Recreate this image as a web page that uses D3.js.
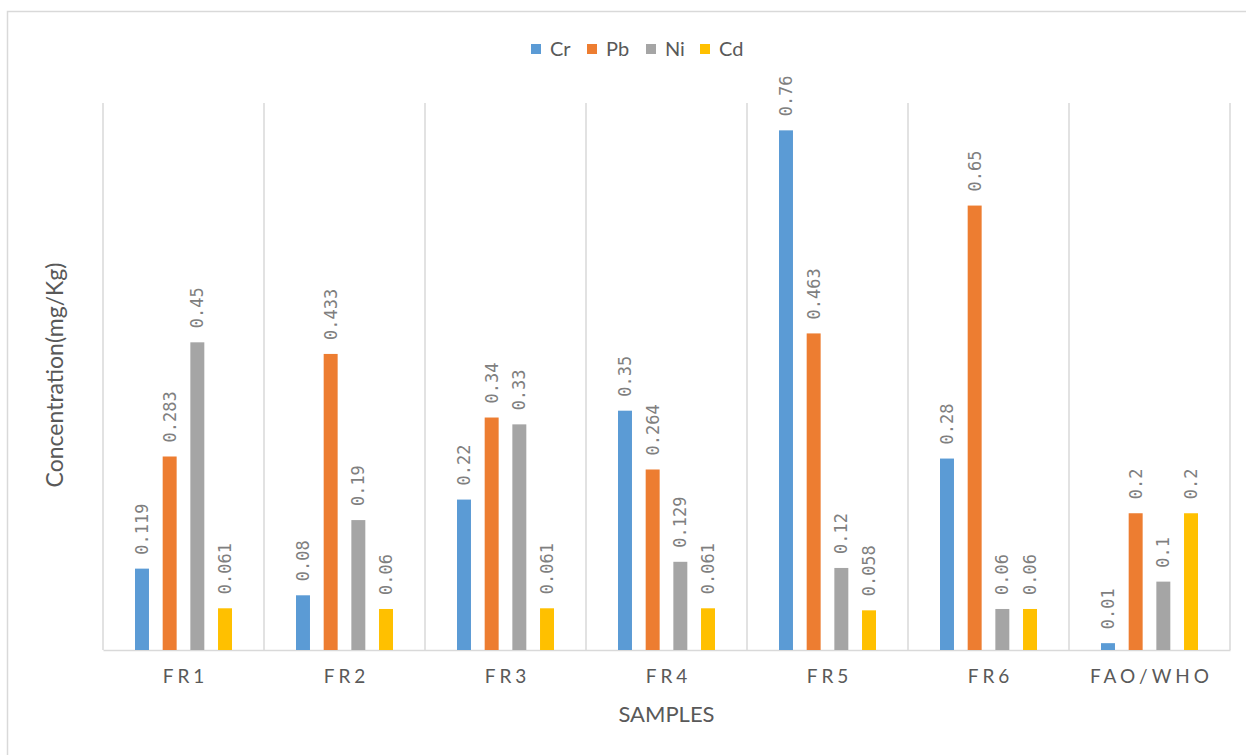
<!DOCTYPE html>
<html>
<head>
<meta charset="utf-8">
<script src="https://cdn.jsdelivr.net/npm/d3@7"></script>
<style>
  body { margin: 0; background: #fff; }
  svg { display: block; }
</style>
</head>
<body>
<div id="chart"></div>
<script>
// data
var samples = ["FR1", "FR2", "FR3", "FR4", "FR5", "FR6", "FAO/WHO"];
var metals = ["Cr", "Pb", "Ni", "Cd"];
var crValues = [0.119, 0.08, 0.22, 0.35, 0.76, 0.28, 0.01];
var pbValues = [0.283, 0.433, 0.34, 0.264, 0.463, 0.65, 0.2];
var niValues = [0.45, 0.19, 0.33, 0.129, 0.12, 0.06, 0.1];
var cdValues = [0.061, 0.06, 0.061, 0.061, 0.058, 0.06, 0.2];
var colours = ["#5B9BD5", "#ED7D31", "#A5A5A5", "#FFC000"];

var seriesValues = [crValues, pbValues, niValues, cdValues];

var width = 1246, height = 755;
var margin = {top: 103, right: 16, bottom: 105, left: 103};

var svg = d3.select("#chart")
            .append("svg")
            .attr("width", width)
            .attr("height", height);

// chart border
svg.append("rect")
   .attr("x", 7.5).attr("y", 11.5)
   .attr("width", 1260).attr("height", 780)
   .attr("fill", "none")
   .attr("stroke", "#D9D9D9")
   .attr("stroke-width", 1.5);

var x0 = d3.scaleBand()
           .domain(samples)
           .range([margin.left, width - margin.right]);

var x1 = d3.scaleBand()
           .domain(metals)
           .range([0, 97])
           .paddingInner(0.495);
var innerOffset = (x0.bandwidth() - 97) / 2;

var y = d3.scaleLinear()
          .domain([0, 0.8])
          .range([height - margin.bottom, margin.top]);

// vertical separators between categories
var gridX = samples.map(function(s) { return x0(s); });
gridX.push(x0.range()[1]);
svg.append("g")
   .selectAll("line")
   .data(gridX)
   .enter()
   .append("line")
   .attr("x1", function(d) { return d; })
   .attr("x2", function(d) { return d; })
   .attr("y1", y(0.8))
   .attr("y2", y(0))
   .attr("stroke", "#D9D9D9")
   .attr("stroke-width", 1.5);

// x axis (labels only, baseline line)
var xAxis = svg.append("g")
   .attr("transform", "translate(0," + y(0) + ")")
   .call(d3.axisBottom(x0).tickSize(0).tickPadding(20));
xAxis.select(".domain").attr("stroke", "#D9D9D9").attr("stroke-width", 1.5);
xAxis.selectAll("text")
     .attr("font-family", "Lato, 'Open Sans', sans-serif")
     .attr("font-size", "19px")
     .attr("fill", "#595959")
     .style("letter-spacing", "4px")
     .attr("dx", "2px");

// bars
var rows = [];
samples.forEach(function(s, i) {
	metals.forEach(function(m, j) {
		rows.push({sample: s, metal: m, value: seriesValues[j][i], colour: colours[j]});
	});
});

svg.append("g")
   .selectAll("rect")
   .data(rows)
   .enter()
   .append("rect")
   .attr("x", function(d) { return x0(d.sample) + innerOffset + x1(d.metal); })
   .attr("y", function(d) { return y(d.value); })
   .attr("width", x1.bandwidth())
   .attr("height", function(d) { return y(0) - y(d.value); })
   .attr("fill", function(d) { return d.colour; });

// value labels, rotated
svg.append("g")
   .selectAll("text")
   .data(rows)
   .enter()
   .append("text")
   .attr("transform", function(d) {
		let cx = x0(d.sample) + innerOffset + x1(d.metal) + x1.bandwidth() / 2 + 6;
		let cy = y(d.value) - 14;
		return "translate(" + cx + "," + cy + ") rotate(-90)";
   })
   .attr("font-family", "'DejaVu Sans Mono', monospace")
   .attr("font-size", "17px")
   .attr("fill", "#7F7F7F")
   .text(function(d) { return d.value; });

// axis titles
svg.append("text")
   .attr("x", x0.range()[0] + (x0.range()[1] - x0.range()[0]) / 2)
   .attr("y", 722)
   .attr("text-anchor", "middle")
   .attr("font-family", "Lato, 'Open Sans', sans-serif")
   .attr("font-size", "22px")
   .attr("fill", "#595959")
   .text("SAMPLES");

svg.append("text")
   .attr("transform", "translate(63,375) rotate(-90)")
   .attr("text-anchor", "middle")
   .attr("font-family", "Lato, 'Open Sans', sans-serif")
   .attr("font-size", "23px")
   .attr("fill", "#595959")
   .text("Concentration(mg/Kg)");

// legend
var legendX = [531, 587, 646, 700];
var legend = svg.append("g")
   .selectAll("g")
   .data(metals)
   .enter()
   .append("g")
   .attr("transform", function(d, i) { return "translate(" + legendX[i] + ",44)"; });
legend.append("rect")
      .attr("width", 10).attr("height", 10)
      .attr("fill", function(d, i) { return colours[i]; });
legend.append("text")
      .attr("x", 19).attr("y", 12)
      .attr("font-family", "Lato, 'Open Sans', sans-serif")
      .attr("font-size", "20px")
      .attr("fill", "#595959")
      .text(function(d) { return d; });
</script>
</body>
</html>
